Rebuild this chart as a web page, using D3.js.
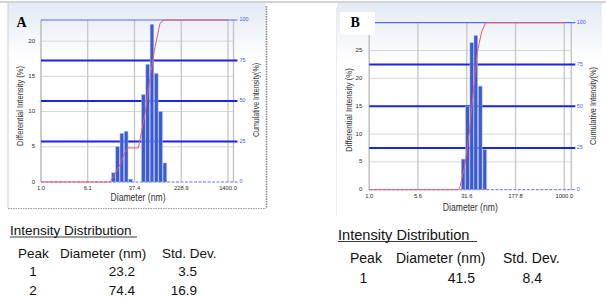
<!DOCTYPE html>
<html><head><meta charset="utf-8">
<script src="https://cdn.jsdelivr.net/npm/d3@7"></script>
<style>body{margin:0;background:#fff}svg{display:block}</style>
</head><body>
<svg id="c" width="606" height="299"></svg>
<script>
// ---------- Panel A data ----------
const xTickValsA = [1.0, 6.1, 37.4, 228.9, 1400.0];
const xTickLabelsA = ["1.0", "6.1", "37.4", "228.9", "1400.0"];
const yTicksA = [0, 5, 10, 15, 20];
const diamA = [16.5, 19.4, 22.9, 27.1, 32.0, 52.8, 62.3, 73.6, 87.0, 102.8, 121.4];
const intenA = [1.3, 5.0, 6.9, 7.2, 0.4, 12.4, 16.7, 22.4, 15.4, 10.0, 2.7];
const cumDiamA = [1, 14.5, 21.3, 25.2, 29.1, 43.4, 56.2, 68.2, 80.6, 100.5, 117.3, 1400];
const cumValA = [0, 0, 10.5, 17.7, 21, 21, 42, 64, 81, 98, 100, 100];
const peakNoA = ["1", "2"];
const peakDiamA = ["23.2", "74.4"];
const peakSdA = ["3.5", "16.9"];

// ---------- Panel B data ----------
const xTickValsB = [1.0, 5.6, 31.6, 177.8, 1000.0];
const xTickLabelsB = ["1.0", "5.6", "31.6", "177.8", "1000.0"];
const yTicksB = [0, 5, 10, 15, 20, 25]; // the "30" label is hidden behind the "B" box
const diamB = [27.8, 32.4, 37.7, 43.5, 51.0, 59.8];
const intenB = [5.5, 15.0, 26.4, 27.7, 18.6, 7.2];
const cumDiamB = [1, 23.4, 24.9, 29.7, 34.9, 45.9, 53.6, 61.8, 1000];
const cumValB = [0, 0, 1.8, 15, 36, 82.6, 94.6, 100, 100];
const peakNoB = ["1"];
const peakDiamB = ["41.5"];
const peakSdB = ["8.4"];

// ---------- shared ----------
const rightTicks = [0, 25, 50, 75, 100];
const tableHeaders = ["Peak", "Diameter (nm)", "Std. Dev."];
const tableTitle = "Intensity Distribution";
const xTitle = "Diameter (nm)";
const yTitle = "Differential Intensity (%)";
const y2Title = "Cumulative Intensity(%)";

const svg = d3.select("#c");
const defs = svg.append("defs");
const grad = defs.append("linearGradient").attr("id", "bg").attr("x1", 0).attr("y1", 0).attr("x2", 0).attr("y2", 1);
grad.append("stop").attr("offset", "0").attr("stop-color", "#e3eaf3");
grad.append("stop").attr("offset", "0.28").attr("stop-color", "#ffffff");
grad.append("stop").attr("offset", "1").attr("stop-color", "#ffffff");

const TF = "'Liberation Sans', Arial, sans-serif";

// top grey rule across the picture
svg.append("line").attr("x1", 0).attr("x2", 606).attr("y1", 2).attr("y2", 2)
  .attr("stroke", "#c4c4c4").attr("stroke-width", 1.5);

function panel(o) {
  const g = svg.append("g");
  g.append("rect").attr("x", o.frame[0]).attr("y", o.frame[1])
    .attr("width", o.frame[2] - o.frame[0]).attr("height", o.frame[3] - o.frame[1])
    .attr("fill", "url(#bg)");
  const x = d3.scaleLog().domain(o.xDomain).range([o.L, o.R]);
  const y = d3.scaleLinear().domain([0, o.yMax]).range([o.B, o.T]);
  const y2 = d3.scaleLinear().domain([0, 100]).range([o.B, o.T]);

  g.append("g").selectAll("line").data(o.yTicks.filter(d => d > 0)).join("line")
    .attr("x1", o.L).attr("x2", o.R + 6).attr("y1", d => y(d)).attr("y2", d => y(d))
    .attr("stroke", "#d6d6d6").attr("stroke-width", 1);
  g.append("g").selectAll("line").data(o.xTicks).join("line")
    .attr("x1", d => x(d)).attr("x2", d => x(d)).attr("y1", o.T).attr("y2", o.B)
    .attr("stroke", "#c9c9c9").attr("stroke-width", 1.4);
  g.append("line").attr("x1", o.L).attr("x2", o.L).attr("y1", o.T).attr("y2", o.B)
    .attr("stroke", "#c4c4c4").attr("stroke-width", 1.4);
  g.append("line").attr("x1", o.R + o.rOff).attr("x2", o.R + o.rOff).attr("y1", o.T).attr("y2", o.B)
    .attr("stroke", "#c4c4c4").attr("stroke-width", 1.4);

  g.append("g").selectAll("line").data(rightTicks.filter(d => d > 0)).join("line")
    .attr("x1", o.L).attr("x2", o.R + o.blueExt).attr("y1", d => y2(d)).attr("y2", d => y2(d))
    .attr("stroke", d => d === 100 ? "#5a66f2" : "#1a22ee")
    .attr("stroke-width", d => d === 100 ? 1.2 : 2);
  g.append("line").attr("x1", o.L).attr("x2", o.R + o.blueExt).attr("y1", o.B).attr("y2", o.B)
    .attr("stroke", "#6070e6").attr("stroke-width", 1).attr("stroke-dasharray", "3,1.5");

  const bw = 3.6;
  g.append("g").selectAll("rect").data(o.diam.map((d, i) => ({ d, v: o.inten[i] }))).join("rect")
    .attr("x", d => x(d.d) - bw / 2).attr("width", bw)
    .attr("y", d => y(d.v)).attr("height", d => o.B - y(d.v))
    .attr("fill", "#3a5bd2").attr("stroke", "#a9b8ee").attr("stroke-width", 0.5);

  const pts = o.cumD.map((d, i) => [x(d), y2(o.cumV[i])]);
  g.append("path").attr("d", d3.line()(pts)).attr("fill", "none")
    .attr("stroke", "#ea5a6a").attr("stroke-width", 1);

  g.append("g").selectAll("text").data(o.xTicks).join("text")
    .attr("x", d => x(d)).attr("y", o.B + o.xLabOff)
    .attr("text-anchor", "middle").attr("dominant-baseline", "middle")
    .attr("font-family", TF).attr("font-size", 5.8).attr("fill", "#2a2a2a")
    .text((d, i) => o.xLabels[i]);
  g.append("g").selectAll("text").data(o.yTicks).join("text")
    .attr("x", o.L - o.yLabOff).attr("y", d => y(d))
    .attr("text-anchor", "end").attr("dominant-baseline", "middle")
    .attr("font-family", TF).attr("font-size", 6).attr("fill", "#2a2a2a")
    .text(d => d);
  g.append("g").selectAll("text").data(rightTicks).join("text")
    .attr("x", o.R + o.rLab).attr("y", d => y2(d))
    .attr("dominant-baseline", "middle")
    .attr("font-family", TF).attr("font-size", 5.4).attr("fill", "#4a55ff")
    .text(d => d);

  g.append("text").attr("transform", `translate(${o.yT[0]},${o.yT[1]}) rotate(-90)`)
    .attr("text-anchor", "middle").attr("dominant-baseline", "middle")
    .attr("font-family", TF).attr("font-size", 9.5).attr("fill", "#333")
    .attr("textLength", o.yT[2]).attr("lengthAdjust", "spacingAndGlyphs").text(yTitle);
  g.append("text").attr("transform", `translate(${o.y2T[0]},${o.y2T[1]}) rotate(-90)`)
    .attr("text-anchor", "middle").attr("dominant-baseline", "middle")
    .attr("font-family", TF).attr("font-size", 9).attr("fill", "#333")
    .attr("textLength", o.y2T[2]).attr("lengthAdjust", "spacingAndGlyphs").text(y2Title);
  g.append("text").attr("x", o.xT[0]).attr("y", o.xT[1])
    .attr("text-anchor", "middle").attr("dominant-baseline", "middle")
    .attr("font-family", TF).attr("font-size", 10).attr("fill", "#333")
    .attr("textLength", o.xT[2]).attr("lengthAdjust", "spacingAndGlyphs").text(xTitle);

  if (o.letterBox) {
    g.append("rect").attr("x", o.letterBox[0]).attr("y", o.letterBox[1])
      .attr("width", o.letterBox[2]).attr("height", o.letterBox[3]).attr("fill", "#ffffff");
  }
  g.append("text").attr("x", o.letter[1]).attr("y", o.letter[2])
    .attr("font-family", "'Liberation Serif', 'Times New Roman', serif")
    .attr("font-weight", "bold").attr("font-size", 14).attr("fill", "#000")
    .text(o.letter[0]);

  const t = o.table;
  g.append("text").attr("x", t.x0).attr("y", t.yTitle)
    .attr("font-family", TF).attr("font-size", t.fsTitle).attr("fill", "#111").text(tableTitle);
  g.append("line").attr("x1", t.x0).attr("x2", t.ulEnd).attr("y1", t.yTitle + 2).attr("y2", t.yTitle + 2)
    .attr("stroke", "#222").attr("stroke-width", 0.9);
  g.append("g").selectAll("text").data(tableHeaders).join("text")
    .attr("x", (d, i) => t.hx[i]).attr("y", t.yHead)
    .attr("font-family", TF).attr("font-size", t.fs).attr("fill", "#111").text(d => d);
  t.rows.forEach((ry, r) => {
    g.append("text").attr("x", t.cPeak).attr("y", ry).attr("text-anchor", "middle")
      .attr("font-family", TF).attr("font-size", t.fs).attr("fill", "#111").text(o.peakNo[r]);
    g.append("text").attr("x", t.cDiam).attr("y", ry).attr("text-anchor", "end")
      .attr("font-family", TF).attr("font-size", t.fs).attr("fill", "#111").text(o.peakDiam[r]);
    g.append("text").attr("x", t.cSd).attr("y", ry).attr("text-anchor", "end")
      .attr("font-family", TF).attr("font-size", t.fs).attr("fill", "#111").text(o.peakSd[r]);
  });
  return g;
}

panel({
  frame: [8, 3, 266, 208],
  L: 41, R: 228, T: 20, B: 182,
  xDomain: [1, 1400], yMax: 23,
  xTicks: xTickValsA, xLabels: xTickLabelsA, yTicks: yTicksA,
  diam: diamA, inten: intenA, cumD: cumDiamA, cumV: cumValA,
  rOff: 5.5, blueExt: 9.5, rLab: 11.5, xLabOff: 6.5, yLabOff: 6,
  yT: [20, 106, 80], y2T: [257, 100, 74], xT: [138, 198.5, 55],
  letter: ["A", 16.5, 26.7],
  peakNo: peakNoA, peakDiam: peakDiamA, peakSd: peakSdA,
  table: { x0: 10, yTitle: 235, ulEnd: 137, fsTitle: 13.5, fs: 13.5,
    hx: [18, 60, 162], yHead: 258, rows: [275.5, 295], cPeak: 33, cDiam: 135, cSd: 197 }
});
svg.append("line").attr("x1", 8).attr("x2", 8).attr("y1", 2).attr("y2", 208)
  .attr("stroke", "#cfcfcf").attr("stroke-width", 1);
svg.append("line").attr("x1", 266.5).attr("x2", 266.5).attr("y1", 6).attr("y2", 208)
  .attr("stroke", "#8a8a8a").attr("stroke-width", 1.6).attr("stroke-dasharray", "1.5,1");
svg.append("line").attr("x1", 8).attr("x2", 266).attr("y1", 208.5).attr("y2", 208.5)
  .attr("stroke", "#9a9a9a").attr("stroke-width", 1).attr("stroke-dasharray", "1.5,1");

panel({
  frame: [337, 3, 602, 218],
  L: 369.3, R: 564.3, T: 22.7, B: 189.7,
  xDomain: [1, 1000], yMax: 30,
  xTicks: xTickValsB, xLabels: xTickLabelsB, yTicks: yTicksB,
  diam: diamB, inten: intenB, cumD: cumDiamB, cumV: cumValB,
  rOff: 7, blueExt: 11, rLab: 12.5, xLabOff: 7, yLabOff: 7,
  yT: [349.3, 110, 84], y2T: [593.3, 106, 78], xT: [470.3, 208, 55],
  letter: ["B", 350.5, 26.7], letterBox: [340, 12, 35, 23],
  peakNo: peakNoB, peakDiam: peakDiamB, peakSd: peakSdB,
  table: { x0: 338, yTitle: 239.5, ulEnd: 477, fsTitle: 14.6, fs: 14,
    hx: [350, 396, 503], yHead: 263, rows: [283], cPeak: 363.5, cDiam: 475, cSd: 542 }
});
svg.append("line").attr("x1", 336.5).attr("x2", 336.5).attr("y1", 8).attr("y2", 216)
  .attr("stroke", "#ececec").attr("stroke-width", 1);
</script>
</body></html>
